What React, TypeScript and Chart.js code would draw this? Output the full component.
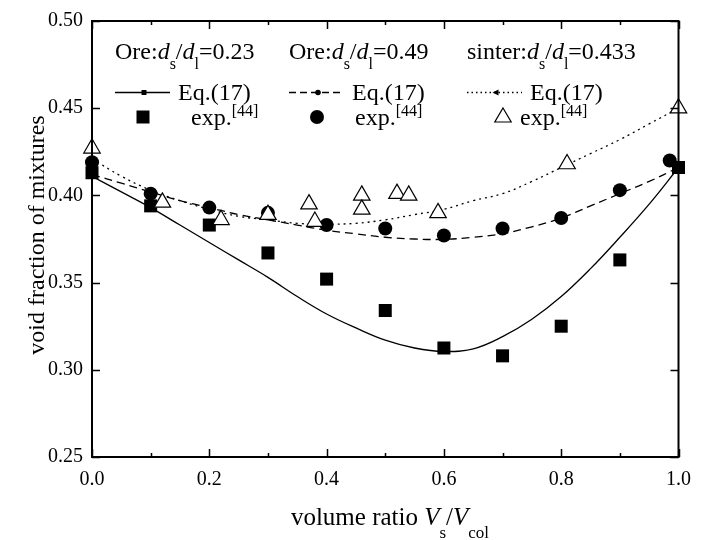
import React, { useEffect, useRef } from 'react';
import { Chart, registerables } from 'chart.js';

Chart.register(...registerables);

// Experimental data [44]
const ratioOre023 = [0, 0.1, 0.2, 0.3, 0.4, 0.5, 0.6, 0.7, 0.8, 0.9, 1.0];
const voidOre023 = [0.413, 0.394, 0.383, 0.367, 0.352, 0.334, 0.3125, 0.308, 0.325, 0.363, 0.416];

const ratioOre049 = [0, 0.1, 0.2, 0.3, 0.4, 0.5, 0.6, 0.7, 0.8, 0.9, 0.985];
const voidOre049 = [0.419, 0.401, 0.393, 0.39, 0.383, 0.381, 0.377, 0.381, 0.387, 0.403, 0.42];

const ratioSinter = [0, 0.12, 0.22, 0.3, 0.37, 0.38, 0.46, 0.46, 0.52, 0.54, 0.59, 0.81, 1.0];
const voidSinter = [0.427, 0.396, 0.386, 0.389, 0.395, 0.385, 0.4, 0.392, 0.401, 0.4, 0.39, 0.418, 0.45];

// Eq.(17) curves
const eqRatio = [0, 0.05, 0.1, 0.15, 0.2, 0.25, 0.3, 0.35, 0.4, 0.45, 0.5, 0.55, 0.6, 0.65, 0.7, 0.75, 0.8, 0.85, 0.9, 0.95, 1.0];
const eqOre023 = [0.411, 0.402, 0.393, 0.383, 0.373, 0.363, 0.353, 0.342, 0.332, 0.324, 0.317, 0.3125, 0.3105, 0.312, 0.319, 0.329, 0.342, 0.358, 0.376, 0.395, 0.416];
const eqOre049 = [0.412, 0.407, 0.402, 0.397, 0.393, 0.389, 0.386, 0.383, 0.38, 0.378, 0.376, 0.375, 0.3748, 0.376, 0.378, 0.382, 0.387, 0.394, 0.401, 0.408, 0.416];
const eqSinter = [0.421, 0.411, 0.403, 0.397, 0.392, 0.388, 0.386, 0.384, 0.3835, 0.384, 0.386, 0.389, 0.392, 0.397, 0.401, 0.408, 0.416, 0.424, 0.432, 0.441, 0.45];

const xTickValues = [0, 0.1, 0.2, 0.3, 0.4, 0.5, 0.6, 0.7, 0.8, 0.9, 1.0];
const yTickValues = [0.25, 0.3, 0.35, 0.4, 0.45, 0.5];

const legendTitles = ['0.23', '0.49', '0.433'];
const legendNames = ['Ore:', 'Ore:', 'sinter:'];

const FAMILY = '"Liberation Serif", "Times New Roman", serif';

type Part = { t: string; i?: boolean; sub?: boolean; sup?: boolean };

function fontFor(size: number, italic?: boolean) {
  return `${italic ? 'italic ' : ''}${size}px ${FAMILY}`;
}

function drawRich(ctx: CanvasRenderingContext2D, x: number, y: number, parts: Part[], size: number, align: 'left' | 'center' = 'left', subDy = 0.4) {
  let w = 0;
  const widths: number[] = [];
  for (const p of parts) {
    const s = p.sub || p.sup ? Math.round(size * 0.66) : size;
    ctx.font = fontFor(s, p.i);
    const pw = ctx.measureText(p.t).width;
    widths.push(pw);
    w += pw;
  }
  let cx = align === 'center' ? x - w / 2 : x;
  ctx.textAlign = 'left';
  ctx.textBaseline = 'alphabetic';
  parts.forEach((p, k) => {
    const s = p.sub || p.sup ? Math.round(size * 0.66) : size;
    ctx.font = fontFor(s, p.i);
    const dy = p.sub ? size * subDy : p.sup ? -size * 0.38 : 0;
    ctx.fillText(p.t, cx, y + dy);
    cx += widths[k];
  });
}

const decorPlugin = {
  id: 'decor',
  afterDatasetsDraw(chart: any) {
    const ctx: CanvasRenderingContext2D = chart.ctx;
    const { left, right, top, bottom } = chart.chartArea;
    const xs = chart.scales.x;
    const ys = chart.scales.y;
    ctx.save();
    ctx.strokeStyle = '#000';
    ctx.fillStyle = '#000';
    // ticks
    ctx.lineWidth = 1.5;
    ctx.beginPath();
    xTickValues.forEach((v, i) => {
      const px = Math.round(xs.getPixelForValue(v)) + 0.5;
      const len = i % 2 === 0 ? 8 : 4;
      ctx.moveTo(px, bottom);
      ctx.lineTo(px, bottom - len);
      ctx.moveTo(px, top);
      ctx.lineTo(px, top + len);
    });
    yTickValues.forEach((v) => {
      const py = Math.round(ys.getPixelForValue(v)) + 0.5;
      ctx.moveTo(left, py);
      ctx.lineTo(left + 8, py);
      ctx.moveTo(right, py);
      ctx.lineTo(right - 8, py);
    });
    ctx.stroke();
    // frame
    ctx.lineWidth = 2;
    ctx.strokeRect(left, top, right - left, bottom - top);

    // legend
    const colX = [115, 289, 467];
    const expX = [191, 355, 520];
    const markX = [143, 317, 503];
    const size = 24;
    for (let c = 0; c < 3; c++) {
      const x0 = colX[c];
      drawRich(ctx, x0, 59, [
        { t: legendNames[c] },
        { t: 'd', i: true },
        { t: 's', sub: true },
        { t: '/' },
        { t: 'd', i: true },
        { t: 'l', sub: true },
        { t: '=' + legendTitles[c] },
      ], size);
      // line sample
      const ly = 92.5;
      ctx.save();
      ctx.lineWidth = 1.3;
      if (c === 1) ctx.setLineDash([7, 4]);
      if (c === 2) ctx.setLineDash([1.5, 3]);
      ctx.beginPath();
      ctx.moveTo(x0, ly);
      ctx.lineTo(x0 + 55, ly);
      ctx.stroke();
      ctx.restore();
      const mx = x0 + 29;
      ctx.beginPath();
      if (c === 0) {
        ctx.rect(mx - 2.5, ly - 2.5, 5, 5);
      } else if (c === 1) {
        ctx.arc(mx, ly, 2.8, 0, Math.PI * 2);
      } else {
        ctx.moveTo(mx - 3.5, ly);
        ctx.lineTo(mx + 2.5, ly - 3);
        ctx.lineTo(mx + 2.5, ly + 3);
        ctx.closePath();
      }
      ctx.fill();
      drawRich(ctx, x0 + 63, 100, [{ t: 'Eq.(17)' }], size);
      // exp marker
      const ey = 117;
      const ex = markX[c];
      ctx.beginPath();
      if (c === 0) {
        ctx.rect(ex - 6.5, ey - 6.5, 13, 13);
        ctx.fill();
      } else if (c === 1) {
        ctx.arc(ex, ey, 7, 0, Math.PI * 2);
        ctx.fill();
      } else {
        ctx.lineWidth = 1.2;
        ctx.moveTo(ex, ey - 9);
        ctx.lineTo(ex + 8.2, ey + 5);
        ctx.lineTo(ex - 8.2, ey + 5);
        ctx.closePath();
        ctx.fillStyle = '#fff';
        ctx.fill();
        ctx.stroke();
        ctx.fillStyle = '#000';
      }
      drawRich(ctx, expX[c], 125, [{ t: 'exp.' }, { t: '[44]', sup: true }], size);
    }

    // axis titles
    drawRich(ctx, 390, 525, [
      { t: 'volume ratio ' },
      { t: 'V', i: true },
      { t: 's', sub: true },
      { t: '/' },
      { t: 'V', i: true },
      { t: 'col', sub: true },
    ], 25, 'center', 0.5);
    ctx.save();
    ctx.translate(36, 235);
    ctx.rotate(-Math.PI / 2);
    drawRich(ctx, 0, 8, [{ t: 'void fraction of mixtures' }], 24, 'center');
    ctx.restore();
    ctx.restore();
  },
};

function pts(xv: number[], yv: number[]) {
  return xv.map((x, i) => ({ x, y: yv[i] }));
}

export default function App() {
  const ref = useRef<HTMLCanvasElement>(null);
  useEffect(() => {
    document.body.style.margin = '0';
    const canvas = ref.current!;
    const lineBase = {
      showLine: true,
      pointRadius: 0,
      borderColor: '#000',
      borderWidth: 1.3,
      tension: 0.4,
      fill: false,
      order: 3,
    };
    const chart = new Chart(canvas, {
      type: 'scatter',
      data: {
        datasets: [
          { ...lineBase, label: 'Eq17 0.23', data: pts(eqRatio, eqOre023) },
          { ...lineBase, label: 'Eq17 0.49', data: pts(eqRatio, eqOre049), borderDash: [8, 5] },
          { ...lineBase, label: 'Eq17 sinter', data: pts(eqRatio, eqSinter), borderDash: [2, 4] },
          {
            label: 'exp 0.23', data: pts(ratioOre023, voidOre023), showLine: false,
            pointStyle: 'rect', pointRadius: 9.2, backgroundColor: '#000', borderColor: '#000', borderWidth: 0,
            clip: false, order: 2,
          },
          {
            label: 'exp 0.49', data: pts(ratioOre049, voidOre049), showLine: false,
            pointStyle: 'circle', pointRadius: 7, backgroundColor: '#000', borderColor: '#000', borderWidth: 0,
            clip: false, order: 1,
          },
          {
            label: 'exp sinter', data: pts(ratioSinter, voidSinter), showLine: false,
            pointStyle: 'triangle', pointRadius: 9.5, backgroundColor: '#fff', borderColor: '#000', borderWidth: 1.2,
            clip: false, order: 0,
          },
        ] as any,
      },
      options: {
        responsive: false,
        animation: false,
        devicePixelRatio: 1,
        layout: { padding: { top: 16, right: 14, left: 0, bottom: 0 } },
        plugins: { legend: { display: false }, tooltip: { enabled: false } },
        scales: {
          x: {
            type: 'linear', min: 0, max: 1,
            grid: { display: false, drawTicks: false },
            border: { display: false },
            ticks: {
              stepSize: 0.2, padding: 11, color: '#000',
              font: { family: FAMILY, size: 20 },
              callback: (v: any) => Number(v).toFixed(1),
            },
            afterFit: (s: any) => { s.height = 83; },
          },
          y: {
            type: 'linear', min: 0.25, max: 0.5,
            grid: { display: false, drawTicks: false },
            border: { display: false },
            ticks: {
              stepSize: 0.05, padding: 9, color: '#000',
              font: { family: FAMILY, size: 20 },
              callback: (v: any) => Number(v).toFixed(2),
            },
            afterFit: (s: any) => { s.width = 92; },
          },
        },
      } as any,
      plugins: [decorPlugin],
    });
    return () => chart.destroy();
  }, []);
  return <canvas ref={ref} width={702} height={540} style={{ display: 'block', width: 702, height: 540 }} />;
}
